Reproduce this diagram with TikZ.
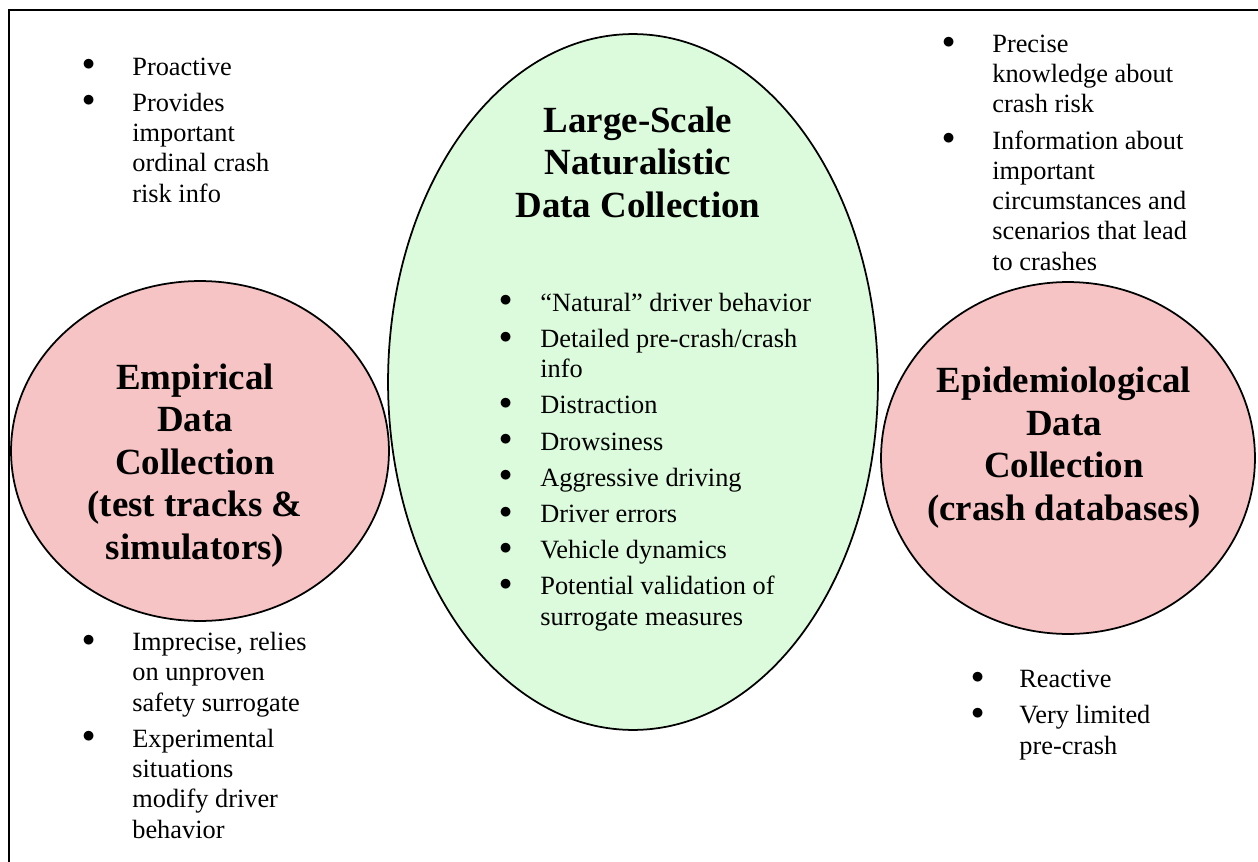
\documentclass[tikz,border=0pt]{standalone}
\usepackage{fontspec}
\setmainfont{Liberation Serif}

\definecolor{riskpink}{RGB}{246,196,196}
\definecolor{natgreen}{RGB}{220,251,220}
\newcommand{\bul}[1][21.2pt]{\llap{\raisebox{2.5pt}{$\bullet$}\hspace{#1}}\ignorespaces}

\begin{document}
\begin{tikzpicture}[x=0.02cm, y=-0.02cm,
        title/.style={align=center, inner sep=0pt, anchor=base, font=\fontsize{21}{24.1}\selectfont\bfseries},
        facts/.style={align=left, inner sep=0pt, anchor=base west, font=\fontsize{15}{17.2}\selectfont}]
        \useasboundingbox (0,0) rectangle (1258,862);
        \draw[line width=1.7pt] (9,862) -- (9,10) -- (1258,10); % frame

        \begin{scope}[line width=1pt]
            \draw[fill=natgreen] (633,382) ellipse (4.9cm and 6.96cm); % naturalistic
            \draw[fill=riskpink] (200,451) ellipse (3.78cm and 3.4cm); % empirical
            \draw[fill=riskpink] (1068,458) ellipse (3.74cm and 3.52cm); % epidemiological
        \end{scope}

        % titles, placed by the baseline of their last line
        \node (natural) at (638,217) [title]{Large-Scale\\ Naturalistic\\ Data Collection};
        \node (empirical) at (195,559) [title]{Empirical\\ Data\\ Collection\\ (test tracks \&\\ simulators)};
        \node (epidem) at (1064,520) [title]{Epidemiological\\ Data\\ Collection\\ (crash databases)};

        \node (empplus) at (132,202) [facts]{\bul Proactive\\[3.4pt]\bul Provides\\ important\\ ordinal crash\\ risk info};
        \node (empminus) at (132,838) [facts]{\bul Imprecise, relies\\ on unproven\\ safety surrogate\\[3.4pt]\bul Experimental\\ situations\\ modify driver\\ behavior};
        \node (epiplus) at (992,270) [facts]{\bul Precise\\ knowledge about\\ crash risk\\[3.4pt]\bul Information about\\ important\\ circumstances and\\ scenarios that lead\\ to crashes};
        \node (epiminus) at (1019,754) [facts]{\bul[20.1pt] Reactive\\[3.4pt]\bul[20.1pt] Very limited\\ pre-crash};
        \node (natlist) at (540,625) [facts]{\bul[16.1pt] “Natural” driver behavior\\[3.4pt]\bul[16.1pt] Detailed pre-crash/crash\\ info\\[3.4pt]\bul[16.1pt] Distraction\\[3.4pt]\bul[16.1pt] Drowsiness\\[3.4pt]\bul[16.1pt] Aggressive driving\\[3.4pt]\bul[16.1pt] Driver errors\\[3.4pt]\bul[16.1pt] Vehicle dynamics\\[3.4pt]\bul[16.1pt] Potential validation of\\ surrogate measures};
\end{tikzpicture}
\end{document}
